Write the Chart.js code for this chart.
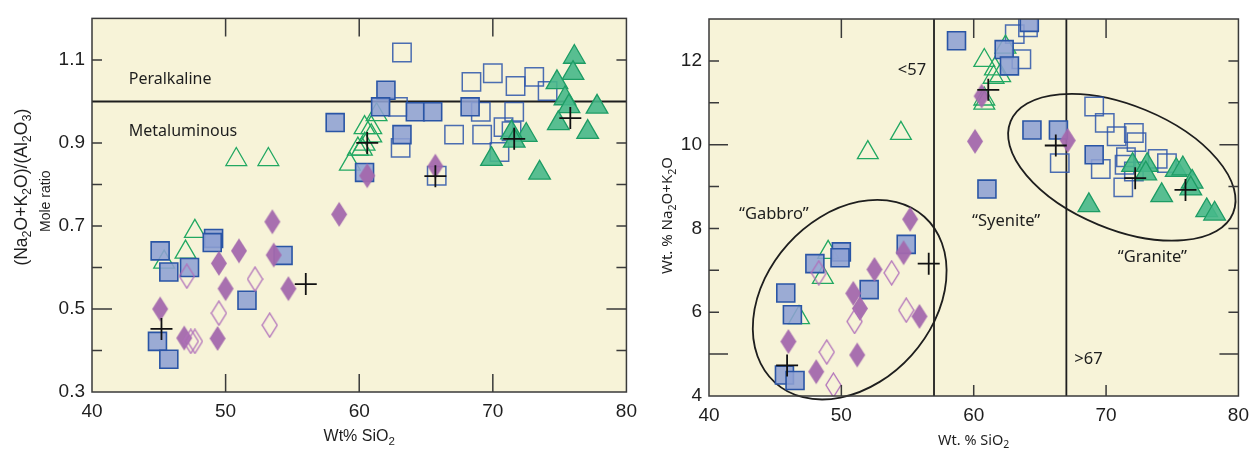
<!DOCTYPE html>
<html>
<head>
<meta charset="utf-8">
<script src="https://cdn.jsdelivr.net/npm/chart.js@4/dist/chart.umd.min.js"></script>
<style>
  body { margin: 0; background: #fff; }
  #wrap { position: relative; width: 1257px; height: 454px; }
  canvas { position: absolute; top: 0; }
</style>
</head>
<body>
<div id="wrap">
  <canvas id="leftChart" width="645" height="454" style="left:0;width:645px;height:454px"></canvas>
  <canvas id="rightChart" width="612" height="454" style="left:645px;width:612px;height:454px"></canvas>
</div>
<script>
// ---- left panel: mole ratio vs SiO2 ----
const leftXTicks = [40, 50, 60, 70, 80];
const leftYTicks = [0.3, 0.5, 0.7, 0.9, 1.1];
const leftYMarks = [0.4, 0.5, 0.6, 0.7, 0.8, 0.9, 1.1];

const leftFilledSquares = [
  [45.1, 0.64], [45.75, 0.589], [49.1, 0.67], [49.0, 0.66], [47.3, 0.6], [54.3, 0.629],
  [51.6, 0.521], [44.9, 0.422], [45.75, 0.379], [58.2, 0.949], [60.4, 0.829], [62.0, 1.027],
  [61.6, 0.987], [64.2, 0.975], [65.5, 0.975], [68.3, 0.987], [63.2, 0.92]
];
const leftOpenSquares = [
  [63.2, 1.118], [62.9, 0.987], [69.1, 0.975], [68.4, 1.047], [70.0, 1.068], [71.7, 1.037],
  [73.1, 1.059], [74.1, 1.025], [71.6, 0.975], [63.1, 0.888], [67.1, 0.92], [69.2, 0.92],
  [70.8, 0.938], [71.4, 0.928], [70.5, 0.878], [65.8, 0.821]
];
const leftOpenTriangles = [
  [50.8, 0.86], [53.2, 0.86], [45.4, 0.613], [47.7, 0.687], [47.0, 0.637], [59.3, 0.849],
  [59.9, 0.885], [60.4, 0.937], [60.9, 0.937], [60.9, 0.917], [60.4, 0.897], [60.2, 0.885],
  [61.3, 0.968]
];
const leftFilledTriangles = [
  [76.1, 1.107], [76.0, 1.068], [74.8, 1.046], [75.4, 1.007], [75.7, 0.988], [77.8, 0.987],
  [74.9, 0.947], [77.1, 0.926], [72.5, 0.919], [71.4, 0.925], [71.6, 0.905], [69.9, 0.861],
  [73.5, 0.828]
];
const leftFilledDiamonds = [
  [49.5, 0.61], [51.0, 0.64], [53.5, 0.71], [53.6, 0.63], [50.0, 0.549], [54.7, 0.549],
  [58.5, 0.728], [45.1, 0.5], [46.9, 0.43], [49.4, 0.429], [60.6, 0.821], [65.7, 0.844]
];
const leftOpenDiamonds = [
  [47.1, 0.579], [52.2, 0.572], [49.5, 0.49], [53.3, 0.461], [47.4, 0.422], [47.7, 0.422]
];
const leftCrosses = [
  [45.2, 0.452], [56.0, 0.56], [60.6, 0.9], [65.7, 0.82], [71.6, 0.91], [75.8, 0.96]
];

// ---- right panel: total alkalis vs SiO2 ----
const rightXTicks = [40, 50, 60, 70, 80];
const rightYTicks = [4, 6, 8, 10, 12];
const rightYMarks = [5, 6, 7, 8, 9, 10, 11, 12];
const rightDividers = [57, 67];

const rightFilledSquares = [
  [58.7, 12.48], [64.2, 12.92], [62.3, 12.27], [62.7, 11.88], [61.0, 8.94], [64.4, 10.35],
  [66.4, 10.35], [69.1, 9.76], [54.9, 7.62], [50.0, 7.44], [49.9, 7.3], [48.0, 7.16],
  [52.1, 6.54], [45.8, 6.46], [46.3, 5.94], [45.7, 4.5], [46.5, 4.37]
];
const rightOpenSquares = [
  [64.1, 12.8], [63.1, 12.64], [63.6, 12.04], [66.5, 9.56], [69.1, 10.91], [69.9, 10.52],
  [70.8, 10.2], [72.1, 10.28], [72.3, 10.06], [71.5, 9.7], [71.4, 9.52], [69.6, 9.42],
  [73.9, 9.66], [74.6, 9.56], [72.1, 9.36], [71.3, 8.98]
];
const rightOpenTriangles = [
  [60.8, 12.01], [62.4, 12.33], [61.6, 11.81], [62.0, 11.65], [61.5, 11.61], [60.8, 11.09],
  [60.8, 10.99], [54.5, 10.27], [52.0, 9.81], [49.0, 7.43], [48.6, 6.83], [46.8, 5.87]
];
const rightFilledTriangles = [
  [72.0, 9.51], [73.1, 9.51], [73.0, 9.31], [75.3, 9.39], [75.8, 9.43], [76.5, 9.11],
  [76.4, 8.95], [74.2, 8.79], [68.7, 8.55], [77.6, 8.43], [78.2, 8.35]
];
const rightFilledDiamonds = [
  [60.6, 11.16], [60.1, 10.08], [67.1, 10.1], [55.2, 8.22], [54.7, 7.42], [52.5, 7.02],
  [50.9, 6.45], [51.4, 6.09], [55.9, 5.9], [46.0, 5.3], [51.2, 4.98], [48.1, 4.58]
];
const rightOpenDiamonds = [
  [48.3, 6.94], [53.8, 6.94], [51.0, 5.78], [54.9, 6.05], [48.9, 5.05], [49.4, 4.26]
];
const rightCrosses = [
  [61.1, 11.31], [66.2, 9.98], [72.2, 9.2], [76.0, 8.92], [56.6, 7.16], [45.9, 4.73]
];

// field outlines on the right panel (centre in data units, radii in x-units)
const gabbroEllipse = { x: 50.63, y: 6.3, a: 8.43, b: 6.28, angle: -48 };
const graniteEllipse = { x: 71.19, y: 9.46, a: 9.09, b: 4.68, angle: 22.4 };

const BG = "#f7f3d8";
const INK = "#1e1e1e";
const TICK_FONT = { family: "'Liberation Sans', Arial, sans-serif", size: 19 };
const NOTE_FONT = "'Noto Sans', 'Open Sans', sans-serif";
const ARIAL = "'Liberation Sans', Arial, sans-serif";

function diamondMarker(w, h, fill, stroke, lw) {
  const c = document.createElement("canvas");
  c.width = w + 2;
  c.height = h + 2;
  const g = c.getContext("2d");
  g.beginPath();
  g.moveTo(c.width / 2, 1);
  g.lineTo(c.width - 1, c.height / 2);
  g.lineTo(c.width / 2, c.height - 1);
  g.lineTo(1, c.height / 2);
  g.closePath();
  if (fill) { g.fillStyle = fill; g.fill(); }
  if (stroke) { g.strokeStyle = stroke; g.lineWidth = lw; g.stroke(); }
  return c;
}

const filledDiamond = diamondMarker(16, 25, "rgba(163,104,173,0.95)", null, 0);
const openDiamond = diamondMarker(15, 24, null, "#b06fba", 1.3);

const styles = {
  filledSq: { pointStyle: "rect", pointRadius: 12.7, backgroundColor: "rgba(142,160,211,0.88)", borderColor: "#2a55a5", borderWidth: 1.6 },
  openSq: { pointStyle: "rect", pointRadius: 13, backgroundColor: "rgba(0,0,0,0)", borderColor: "rgba(45,85,170,0.85)", borderWidth: 1.5 },
  openTri: { pointStyle: "triangle", pointRadius: 12, backgroundColor: "rgba(0,0,0,0)", borderColor: "#22a862", borderWidth: 1.3 },
  filledTri: { pointStyle: "triangle", pointRadius: 12.5, backgroundColor: "rgba(70,184,138,0.9)", borderColor: "#1d9c64", borderWidth: 1.3 },
  filledDia: { pointStyle: filledDiamond, pointRadius: 8 },
  openDia: { pointStyle: openDiamond, pointRadius: 8 },
  cross: { pointStyle: "cross", pointRadius: 11, borderColor: "#111", borderWidth: 1.8 }
};

function ds(label, pts, style) {
  return Object.assign({ label: label, data: pts.map(p => ({ x: p[0], y: p[1] })) }, style);
}

// split "Na_2O" style strings into normal / subscript runs
function parseSub(str) {
  const parts = [];
  let buf = "";
  for (let i = 0; i < str.length; i++) {
    if (str[i] === "_") {
      if (buf) parts.push({ t: buf, sub: false });
      buf = "";
      parts.push({ t: str[i + 1], sub: true });
      i++;
    } else {
      buf += str[i];
    }
  }
  if (buf) parts.push({ t: buf, sub: false });
  return parts;
}

function drawRich(ctx, str, x, y, size, family, rotate) {
  const parts = parseSub(str);
  ctx.save();
  ctx.translate(x, y);
  if (rotate) ctx.rotate(-Math.PI / 2);
  ctx.textBaseline = "middle";
  ctx.textAlign = "left";
  ctx.fillStyle = INK;
  let total = 0;
  parts.forEach(p => {
    ctx.font = (p.sub ? size * 0.72 : size) + "px " + family;
    p.w = ctx.measureText(p.t).width;
    total += p.w;
  });
  let cx = -total / 2;
  parts.forEach(p => {
    ctx.font = (p.sub ? size * 0.72 : size) + "px " + family;
    ctx.fillText(p.t, cx, p.sub ? size * 0.3 : 0);
    cx += p.w;
  });
  ctx.restore();
}

function drawFrame(chart, spec) {
  const ctx = chart.ctx;
  const a = chart.chartArea;
  const xs = chart.scales.x, ys = chart.scales.y;
  ctx.save();
  ctx.strokeStyle = "#3a3a3a";
  ctx.lineWidth = 1.5;
  ctx.strokeRect(a.left, a.top, a.right - a.left, a.bottom - a.top);
  ctx.beginPath();
  spec.yMarks.forEach(v => {
    const py = ys.getPixelForValue(v);
    const len = spec.yLong.includes(v) ? spec.longLen : spec.shortLen;
    ctx.moveTo(a.left, py); ctx.lineTo(a.left + len, py);
    ctx.moveTo(a.right, py); ctx.lineTo(a.right - len, py);
  });
  spec.xMarks.forEach(v => {
    const px = xs.getPixelForValue(v);
    ctx.moveTo(px, a.top); ctx.lineTo(px, a.top + spec.topLen);
    ctx.moveTo(px, a.bottom); ctx.lineTo(px, a.bottom - spec.bottomLen);
  });
  ctx.stroke();
  ctx.restore();
}

function fixedTicks(values) {
  return function (scale) { scale.ticks = values.map(v => ({ value: v })); };
}

function baseOptions(xTicks, yTicks, yMin, yMax, yWidth, xHeight, pad) {
  return {
    responsive: false,
    animation: false,
    events: [],
    layout: { padding: pad },
    plugins: { legend: { display: false }, tooltip: { enabled: false } },
    scales: {
      x: {
        type: "linear", min: 40, max: 80,
        afterBuildTicks: fixedTicks(xTicks),
        afterFit: s => { s.height = xHeight; },
        grid: { display: false, drawTicks: false },
        border: { display: false },
        ticks: { font: TICK_FONT, color: INK, padding: 8, maxRotation: 0 }
      },
      y: {
        type: "linear", min: yMin, max: yMax,
        afterBuildTicks: fixedTicks(yTicks),
        afterFit: s => { s.width = yWidth; },
        grid: { display: false, drawTicks: false },
        border: { display: false },
        ticks: { font: TICK_FONT, color: INK, padding: 7 }
      }
    }
  };
}

const backgroundPlugin = {
  id: "bgFill",
  beforeDatasetsDraw(chart) {
    const a = chart.chartArea;
    chart.ctx.save();
    chart.ctx.fillStyle = BG;
    chart.ctx.fillRect(a.left, a.top, a.right - a.left, a.bottom - a.top);
    chart.ctx.restore();
  }
};

// left chart
const leftPlugin = {
  id: "leftDecor",
  beforeDatasetsDraw(chart) {
    const ctx = chart.ctx, a = chart.chartArea;
    const xs = chart.scales.x, ys = chart.scales.y;
    const py = ys.getPixelForValue(1.0);
    ctx.save();
    ctx.strokeStyle = INK;
    ctx.lineWidth = 2;
    ctx.beginPath();
    ctx.moveTo(a.left, py);
    ctx.lineTo(a.right, py);
    ctx.stroke();
    ctx.fillStyle = INK;
    ctx.font = "16px " + NOTE_FONT;
    ctx.textAlign = "left";
    ctx.textBaseline = "middle";
    ctx.fillText("Peralkaline", xs.getPixelForValue(42.75), ys.getPixelForValue(1.053));
    ctx.fillText("Metaluminous", xs.getPixelForValue(42.75), ys.getPixelForValue(0.927));
    ctx.restore();
  },
  afterDatasetsDraw(chart) {
    drawFrame(chart, { yMarks: leftYMarks, yLong: [0.5], xMarks: [50, 60, 70], shortLen: 10, longLen: 20, topLen: 18, bottomLen: 18 });
  },
  afterDraw(chart) {
    const ctx = chart.ctx, a = chart.chartArea;
    const midX = (a.left + a.right) / 2;
    const midY = (a.top + a.bottom) / 2;
    drawRich(ctx, "(Na_2O+K_2O)/(Al_2O_3)", a.left - 70, midY - 18, 17.5, ARIAL, true);
    drawRich(ctx, "Mole ratio", a.left - 46, midY - 4, 14, ARIAL, true);
    drawRich(ctx, "Wt% SiO_2", midX, a.bottom + 45, 16, "'Liberation Sans Narrow', " + ARIAL, false);
  }
};

new Chart(document.getElementById("leftChart"), {
  type: "scatter",
  data: {
    datasets: [
      ds("cross", leftCrosses, styles.cross),
      ds("open diamond", leftOpenDiamonds, styles.openDia),
      ds("diamond", leftFilledDiamonds, styles.filledDia),
      ds("square", leftFilledSquares, styles.filledSq),
      ds("triangle", leftFilledTriangles, styles.filledTri),
      ds("open triangle", leftOpenTriangles, styles.openTri),
      ds("open square", leftOpenSquares, styles.openSq)
    ]
  },
  options: baseOptions(leftXTicks, leftYTicks, 0.3, 1.2, 92, 62, { top: 15, right: 16, left: 0, bottom: 0 }),
  plugins: [backgroundPlugin, leftPlugin]
});

// right chart
function drawEllipse(chart, e) {
  const ctx = chart.ctx;
  const xs = chart.scales.x, ys = chart.scales.y;
  const unit = Math.abs(xs.getPixelForValue(1) - xs.getPixelForValue(0));
  ctx.beginPath();
  ctx.ellipse(xs.getPixelForValue(e.x), ys.getPixelForValue(e.y), e.a * unit, e.b * unit, e.angle * Math.PI / 180, 0, Math.PI * 2);
  ctx.stroke();
}

const rightPlugin = {
  id: "rightDecor",
  beforeDatasetsDraw(chart) {
    const ctx = chart.ctx, a = chart.chartArea;
    const xs = chart.scales.x, ys = chart.scales.y;
    ctx.save();
    ctx.strokeStyle = INK;
    ctx.lineWidth = 1.8;
    ctx.beginPath();
    rightDividers.forEach(v => {
      const px = xs.getPixelForValue(v);
      ctx.moveTo(px, a.top);
      ctx.lineTo(px, a.bottom);
    });
    ctx.stroke();
    drawEllipse(chart, gabbroEllipse);
    drawEllipse(chart, graniteEllipse);
    ctx.fillStyle = INK;
    ctx.font = "16.5px " + NOTE_FONT;
    ctx.textBaseline = "middle";
    ctx.textAlign = "right";
    ctx.fillText("<57", xs.getPixelForValue(56.4), ys.getPixelForValue(11.78));
    ctx.textAlign = "left";
    ctx.fillText(">67", xs.getPixelForValue(67.6), ys.getPixelForValue(4.88));
    ctx.textAlign = "center";
    ctx.fillText("\u201cGabbro\u201d", xs.getPixelForValue(44.9), ys.getPixelForValue(8.34));
    ctx.fillText("\u201cSyenite\u201d", xs.getPixelForValue(62.45), ys.getPixelForValue(8.16));
    ctx.fillText("\u201cGranite\u201d", xs.getPixelForValue(73.5), ys.getPixelForValue(7.3));
    ctx.restore();
  },
  afterDatasetsDraw(chart) {
    drawFrame(chart, { yMarks: rightYMarks, yLong: [5, 10], xMarks: [50, 60, 70], shortLen: 10, longLen: 19, topLen: 19, bottomLen: 11 });
  },
  afterDraw(chart) {
    const ctx = chart.ctx, a = chart.chartArea;
    const midX = (a.left + a.right) / 2;
    const midY = (a.top + a.bottom) / 2;
    drawRich(ctx, "Wt. % Na_2O+K_2O", a.left - 41, midY + 8, 15, NOTE_FONT, true);
    drawRich(ctx, "Wt. % SiO_2", midX, a.bottom + 45, 14.5, NOTE_FONT, false);
  }
};

new Chart(document.getElementById("rightChart"), {
  type: "scatter",
  data: {
    datasets: [
      ds("cross", rightCrosses, styles.cross),
      ds("open diamond", rightOpenDiamonds, styles.openDia),
      ds("diamond", rightFilledDiamonds, styles.filledDia),
      ds("square", rightFilledSquares, styles.filledSq),
      ds("triangle", rightFilledTriangles, styles.filledTri),
      ds("open triangle", rightOpenTriangles, styles.openTri),
      ds("open square", rightOpenSquares, styles.openSq)
    ]
  },
  options: baseOptions(rightXTicks, rightYTicks, 4, 13, 64, 58, { top: 19, right: 10, left: 0, bottom: 0 }),
  plugins: [backgroundPlugin, rightPlugin]
});
</script>
</body>
</html>
